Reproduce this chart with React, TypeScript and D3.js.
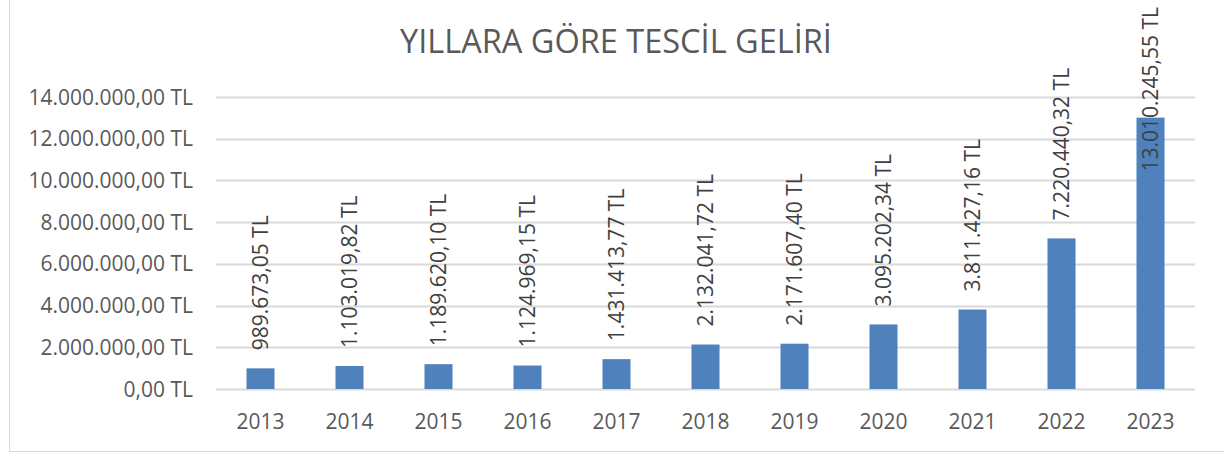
import React, { useEffect, useRef } from "react";
import * as d3 from "d3";

const years = ["2013", "2014", "2015", "2016", "2017", "2018", "2019", "2020", "2021", "2022", "2023"];
const revenues = [
  989673.05, 1103019.82, 1189620.1, 1124969.15, 1431413.77, 2132041.72, 2171607.4, 3095202.34,
  3811427.16, 7220440.32, 13010245.55,
];
const yTicks = [0, 2000000, 4000000, 6000000, 8000000, 10000000, 12000000, 14000000];
const title = "YILLARA GÖRE TESCİL GELİRİ";

const W = 1224;
const H = 453;
const FONT = "'Open Sans', sans-serif";
const FS = 21;

const trLocale = d3.formatLocale({
  decimal: ",",
  thousands: ".",
  grouping: [3],
  currency: ["", " TL"],
});
const fmt = (v: number) => trLocale.format(",.2f")(v) + " TL";

export default function App() {
  const ref = useRef<SVGSVGElement>(null);

  useEffect(() => {
    const svg = d3.select(ref.current);
    svg.selectAll("*").remove();

    const left = 216;
    const right = 1195;
    const top = 97;
    const bottom = 389;

    const x = d3.scaleBand().domain(years).range([left, right]).paddingInner(0.685).paddingOuter(0.3425);
    const y = d3.scaleLinear().domain([0, 14000000]).range([bottom, top]);

    // outer border
    svg
      .append("rect")
      .attr("x", 9.5)
      .attr("y", -5)
      .attr("width", W + 10)
      .attr("height", 451.5 + 5)
      .attr("fill", "#fff")
      .attr("stroke", "#d9d9d9")
      .attr("stroke-width", 1);

    // title
    svg
      .append("text")
      .attr("x", 616)
      .attr("y", 53)
      .attr("text-anchor", "middle")
      .attr("font-family", FONT)
      .attr("font-size", 32.5)
      .attr("fill", "#595959")
      .text(title);

    // gridlines
    svg
      .append("g")
      .selectAll("line")
      .data(yTicks)
      .join("line")
      .attr("x1", left)
      .attr("x2", right)
      .attr("y1", (d) => Math.round(y(d)) + 0.5)
      .attr("y2", (d) => Math.round(y(d)) + 0.5)
      .attr("stroke", "#d9d9d9")
      .attr("stroke-width", 2);

    // y tick labels
    svg
      .append("g")
      .selectAll("text")
      .data(yTicks)
      .join("text")
      .attr("x", 193)
      .attr("y", (d) => y(d))
      .attr("dy", "0.36em")
      .attr("text-anchor", "end")
      .attr("font-family", FONT)
      .attr("font-size", FS)
      .attr("fill", "#595959")
      .text((d) => fmt(d));

    // bars
    svg
      .append("g")
      .selectAll("rect")
      .data(revenues)
      .join("rect")
      .attr("x", (_, i) => x(years[i])!)
      .attr("width", x.bandwidth())
      .attr("y", (d) => y(d))
      .attr("height", (d) => bottom - y(d))
      .attr("fill", "#4f81bd");

    // x labels
    svg
      .append("g")
      .selectAll("text")
      .data(years)
      .join("text")
      .attr("x", (d) => x(d)! + x.bandwidth() / 2)
      .attr("y", 421)
      .attr("dy", "0.36em")
      .attr("text-anchor", "middle")
      .attr("font-family", FONT)
      .attr("font-size", FS)
      .attr("fill", "#595959")
      .text((d) => d);

    // data labels
    const gap = 18;
    const minTop = 7;
    const labels = svg
      .append("g")
      .selectAll("text")
      .data(revenues)
      .join("text")
      .attr("font-family", FONT)
      .attr("font-size", FS)
      .attr("fill", "#404040")
      .attr("dy", "0.36em")
      .text((d) => fmt(d));

    labels.each(function (d, i) {
      const el = this as SVGTextElement;
      const len = el.getComputedTextLength();
      const cx = x(years[i])! + x.bandwidth() / 2;
      let start = y(d) - gap;
      if (start - len < minTop) start = minTop + len;
      d3.select(el)
        .attr("text-anchor", "start")
        .attr("transform", `translate(${cx},${start}) rotate(-90)`);
    });
  }, []);

  return (
    <svg
      ref={ref}
      width={W}
      height={H}
      style={{ position: "absolute", left: 0, top: 0, background: "#fff" }}
    />
  );
}
